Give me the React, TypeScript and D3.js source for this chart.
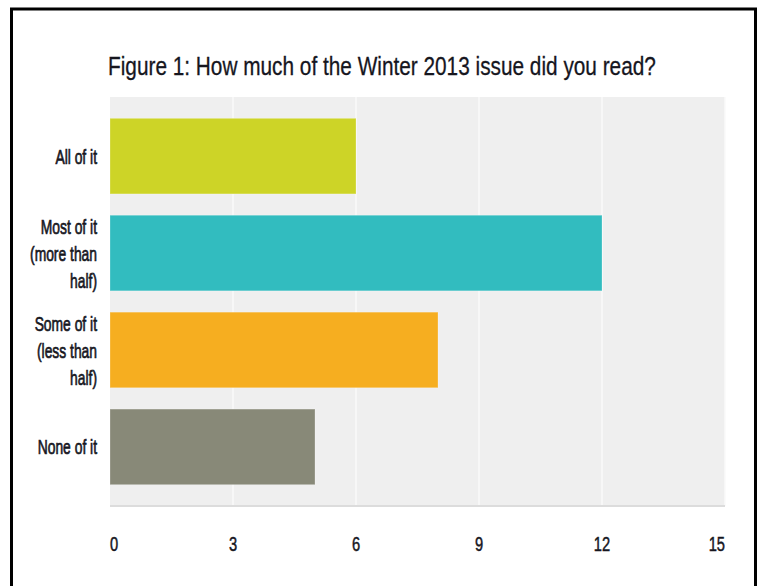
import React from "react";
import * as d3 from "d3";

const categories: string[][] = [
  ["All of it"],
  ["Most of it", "(more than", "half)"],
  ["Some of it", "(less than", "half)"],
  ["None of it"],
];
const values: number[] = [6, 12, 8, 5];
const colors: string[] = ["#cdd427", "#32bcbf", "#f6ae20", "#888978"];
const ticks: number[] = [0, 3, 6, 9, 12, 15];
const title = "Figure 1: How much of the Winter 2013 issue did you read?";

const W = 760;
const H = 586;
const plot = { left: 110, right: 725, top: 97, bottom: 506 };

export default function App() {
  const x = d3.scaleLinear().domain([0, 15]).range([plot.left, plot.right]);
  const y = d3
    .scaleBand<number>()
    .domain(values.map((_, i) => i))
    .range([plot.top, plot.bottom])
    .padding(0.22);
  const font = "'Liberation Sans', Arial, sans-serif";
  const textColor = "#16161e";

  return (
    <svg
      width={W}
      height={H}
      style={{ position: "absolute", left: 0, top: 0, background: "#fff" }}
    >
      <rect x={0} y={0} width={W} height={H} fill="#fff" />
      <rect
        x={11.5}
        y={9}
        width={744}
        height={620}
        fill="none"
        stroke="#000"
        strokeWidth={3}
      />
      <g transform="translate(108,0) scale(0.785,1)">
        <text
          x={0}
          y={75}
          fontFamily={font}
          fontSize={26.5}
          fill={textColor}
          stroke={textColor}
          strokeWidth={0.3}
        >
          {title}
        </text>
      </g>
      <rect
        x={plot.left}
        y={plot.top}
        width={plot.right - plot.left}
        height={plot.bottom - plot.top}
        fill="#efefef"
      />
      {ticks.slice(1).map((t) => (
        <line
          key={"g" + t}
          x1={x(t)}
          x2={x(t)}
          y1={plot.top}
          y2={plot.bottom}
          stroke="#fafafa"
          strokeWidth={1.5}
        />
      ))}
      <line
        x1={plot.left}
        x2={plot.right}
        y1={plot.bottom}
        y2={plot.bottom}
        stroke="#dcdcdc"
        strokeWidth={2}
      />
      {values.map((v, i) => (
        <rect
          key={"b" + i}
          x={x(0)}
          y={y(i)!}
          width={x(v) - x(0)}
          height={y.bandwidth()}
          fill={colors[i]}
          stroke="#ffffff"
          strokeOpacity={0.25}
          strokeWidth={1}
        />
      ))}
      {categories.map((lines, i) => {
        const cy = y(i)! + y.bandwidth() / 2;
        const lh = 27;
        const start = cy - ((lines.length - 1) * lh) / 2;
        return (
          <g key={"l" + i} transform="translate(97,0) scale(0.66,1)">
            {lines.map((ln, j) => (
              <text
                key={j}
                x={0}
                y={start + j * lh}
                dy="0.36em"
                textAnchor="end"
                fontFamily={font}
                fontSize={21}
                fill={textColor}
                stroke={textColor}
                strokeWidth={0.7}
              >
                {ln}
              </text>
            ))}
          </g>
        );
      })}
      {ticks.map((t, i) => {
        const anchor =
          i === 0 ? "start" : i === ticks.length - 1 ? "end" : "middle";
        const tx = x(t);
        return (
          <g key={"t" + t} transform={`translate(${tx},0) scale(0.7,1)`}>
            <text
              x={0}
              y={543}
              dy="0.36em"
              textAnchor={anchor}
              fontFamily={font}
              fontSize={21}
              fill={textColor}
              stroke={textColor}
              strokeWidth={0.5}
            >
              {t}
            </text>
          </g>
        );
      })}
    </svg>
  );
}
